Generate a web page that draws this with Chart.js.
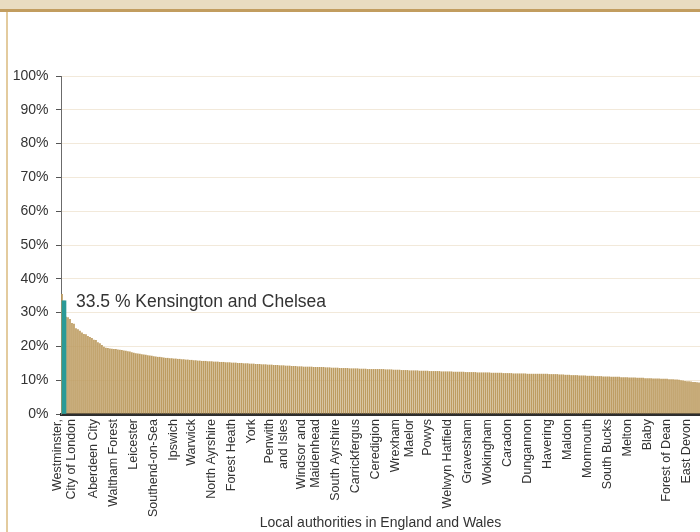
<!DOCTYPE html>
<html><head><meta charset="utf-8">
<script src="https://cdn.jsdelivr.net/npm/chart.js@4.4.1/dist/chart.umd.min.js"></script>
<style>
html,body{margin:0;padding:0;background:#fff;overflow:hidden;}
#wrap{position:relative;width:700px;height:532px;}
#band{position:absolute;left:0;top:0;width:700px;height:9px;background:#e9dcc0;border-bottom:3px solid #c29d5f;}
#rule{position:absolute;left:6px;top:12px;width:2px;height:520px;background:#e3cb9e;}
canvas{position:absolute;left:0;top:0;}
</style></head><body>
<div id="wrap"><div id="band"></div><div id="rule"></div><canvas id="c" width="700" height="532"></canvas></div>
<script>
// Share (%) for each local authority, ranked in descending order (visible part of the chart)
const shareValues = [
 35.5, 33.5, 28.8, 28.6, 28.1, 26.9, 26.7, 25.4, 25.1, 24.6,
 24.1, 23.7, 23.6, 23.1, 22.8, 22.5, 22.0, 21.9, 21.2, 20.9,
 20.4, 19.9, 19.6, 19.5, 19.4, 19.3, 19.2, 19.2, 19.1, 19.0,
 18.9, 18.8, 18.7, 18.6, 18.5, 18.3, 18.1, 18.0, 17.9, 17.8,
 17.7, 17.6, 17.5, 17.4, 17.3, 17.2, 17.1, 17.0, 16.9, 16.9,
 16.8, 16.7, 16.6, 16.6, 16.5, 16.5, 16.4, 16.4, 16.3, 16.3,
 16.2, 16.2, 16.1, 16.1, 16.0, 16.0, 15.9, 15.9, 15.8, 15.8,
 15.7, 15.7, 15.7, 15.6, 15.6, 15.6, 15.5, 15.5, 15.5, 15.4,
 15.4, 15.4, 15.3, 15.3, 15.3, 15.2, 15.2, 15.2, 15.1, 15.1,
 15.1, 15.0, 15.0, 15.0, 14.9, 14.9, 14.9, 14.8, 14.8, 14.8,
 14.7, 14.7, 14.7, 14.6, 14.6, 14.6, 14.5, 14.5, 14.5, 14.4,
 14.4, 14.4, 14.3, 14.3, 14.3, 14.2, 14.2, 14.2, 14.1, 14.1,
 14.1, 14.0, 14.0, 14.0, 14.0, 14.0, 13.9, 13.9, 13.9, 13.9,
 13.9, 13.9, 13.8, 13.8, 13.8, 13.7, 13.7, 13.7, 13.7, 13.6,
 13.6, 13.6, 13.6, 13.6, 13.5, 13.5, 13.5, 13.5, 13.5, 13.4,
 13.4, 13.4, 13.4, 13.3, 13.3, 13.3, 13.3, 13.3, 13.3, 13.3,
 13.3, 13.3, 13.2, 13.2, 13.2, 13.2, 13.1, 13.1, 13.1, 13.1,
 13.0, 13.0, 13.0, 13.0, 12.9, 12.9, 12.9, 12.9, 12.9, 12.8,
 12.8, 12.8, 12.8, 12.8, 12.7, 12.7, 12.7, 12.7, 12.7, 12.7,
 12.6, 12.6, 12.6, 12.6, 12.6, 12.6, 12.5, 12.5, 12.5, 12.5,
 12.5, 12.5, 12.4, 12.4, 12.4, 12.4, 12.4, 12.4, 12.3, 12.3,
 12.3, 12.3, 12.3, 12.3, 12.3, 12.2, 12.2, 12.2, 12.2, 12.2,
 12.2, 12.1, 12.1, 12.1, 12.1, 12.1, 12.0, 12.0, 12.0, 12.0,
 12.0, 12.0, 12.0, 11.9, 11.9, 11.9, 11.9, 11.9, 11.9, 11.9,
 11.9, 11.9, 11.9, 11.9, 11.8, 11.8, 11.8, 11.8, 11.8, 11.7,
 11.7, 11.7, 11.6, 11.6, 11.6, 11.5, 11.5, 11.5, 11.5, 11.4,
 11.4, 11.4, 11.4, 11.3, 11.3, 11.3, 11.3, 11.2, 11.2, 11.2,
 11.2, 11.1, 11.1, 11.1, 11.1, 11.0, 11.0, 11.0, 11.0, 11.0,
 10.9, 10.9, 10.9, 10.9, 10.8, 10.8, 10.8, 10.8, 10.7, 10.7,
 10.7, 10.7, 10.6, 10.6, 10.6, 10.6, 10.5, 10.5, 10.5, 10.5,
 10.4, 10.4, 10.4, 10.4, 10.3, 10.3, 10.3, 10.2, 10.2, 10.1,
 10.0, 9.9, 9.8, 9.7, 9.7, 9.6, 9.5, 9.5, 9.4, 9.3
];

// Authorities named on the x axis and their rank position
const tickNames = [
 ['Westminster,', 'City of London'], 'Aberdeen City', 'Waltham Forest', 'Leicester',
 'Southend-on-Sea', 'Ipswich', 'Warwick', 'North Ayrshire', 'Forest Heath', 'York',
 ['Penwith', 'and Isles'], ['Windsor and', 'Maidenhead'], 'South Ayrshire', 'Carrickfergus',
 'Ceredigion', ['Wrexham', 'Maelor'], 'Powys', 'Welwyn Hatfield', 'Gravesham', 'Wokingham',
 'Caradon', 'Dungannon', 'Havering', 'Maldon', 'Monmouth', 'South Bucks', 'Melton',
 'Blaby', 'Forest of Dean', 'East Devon'
];
const tickIndex = [0, 18, 28, 38, 48, 58, 67, 77, 87, 97, 106, 122, 139, 149, 159, 169,
 185, 195, 205, 215, 225, 235, 245, 255, 265, 275, 285, 295, 305, 315];

const highlightIndex = 1;
const highlightName = 'Kensington and Chelsea';
const highlightValue = 33.5;

const yTickValues = [0, 10, 20, 30, 40, 50, 60, 70, 80, 90, 100];
const xTitle = 'Local authorities in England and Wales';

// build category labels
const labels = shareValues.map(() => '');
tickIndex.forEach((idx, k) => { labels[idx] = tickNames[k]; });
const highlightData = shareValues.map((v, i) => i === highlightIndex ? highlightValue : null);

const FAMILY = '"Liberation Sans", Arial, Helvetica, sans-serif';
const TEXT = '#333333';

const highlightLabel = {
  id: 'highlightLabel',
  afterDatasetsDraw(chart) {
    const {ctx, scales: {x, y}} = chart;
    const px = x.getPixelForValue(highlightIndex) + 12;
    const py = y.getPixelForValue(highlightValue) + 1;
    ctx.save();
    ctx.font = '17.5px ' + FAMILY;
    ctx.fillStyle = TEXT;
    ctx.textBaseline = 'middle';
    ctx.textAlign = 'left';
    ctx.fillText(highlightValue + ' % ' + highlightName, px, py);
    ctx.restore();
  }
};

new Chart(document.getElementById('c'), {
  type: 'bar',
  data: {
    labels: labels,
    datasets: [
      { label: highlightName, data: highlightData, backgroundColor: '#2a9a97',
        barThickness: 4, grouped: false },
      { label: 'Share', data: shareValues, backgroundColor: '#bd9c61',
        barPercentage: 0.85, categoryPercentage: 1, grouped: false }
    ]
  },
  options: {
    responsive: false,
    animation: false,
    devicePixelRatio: 1,
    layout: { padding: { top: 76, right: 0, bottom: 0, left: 0 } },
    plugins: { legend: { display: false }, tooltip: { enabled: false } },
    scales: {
      x: {
        type: 'category',
        z: 1,
        grid: { display: true, drawOnChartArea: false, drawTicks: false },
        border: { display: true, color: '#2e2e2e', width: 3 },
        ticks: {
          autoSkip: false, minRotation: 90, maxRotation: 90, padding: 5, labelOffset: -4,
          color: TEXT, font: { size: 12.5, family: FAMILY, lineHeight: 1.1 }
        },
        title: { display: true, text: xTitle, color: TEXT, padding: { top: 0, bottom: 0 },
          font: { size: 14, family: FAMILY, lineHeight: 1.2 } },
        afterFit(scale) { scale.height = 118; scale.paddingLeft = 0; scale.paddingRight = 0; }
      },
      y: {
        min: 0, max: 100,
        afterBuildTicks(scale) { scale.ticks = yTickValues.map(v => ({ value: v })); },
        ticks: { padding: 7.5, color: TEXT, font: { size: 14, family: FAMILY },
          callback: v => v + '%' },
        grid: { color: '#f2e9da', tickColor: '#555555', tickLength: 5, lineWidth: 1 },
        border: { display: true, color: '#6b6b6b', width: 1 },
        afterFit(scale) { scale.width = 61; }
      }
    }
  },
  plugins: [highlightLabel]
});
</script>
</body></html>
